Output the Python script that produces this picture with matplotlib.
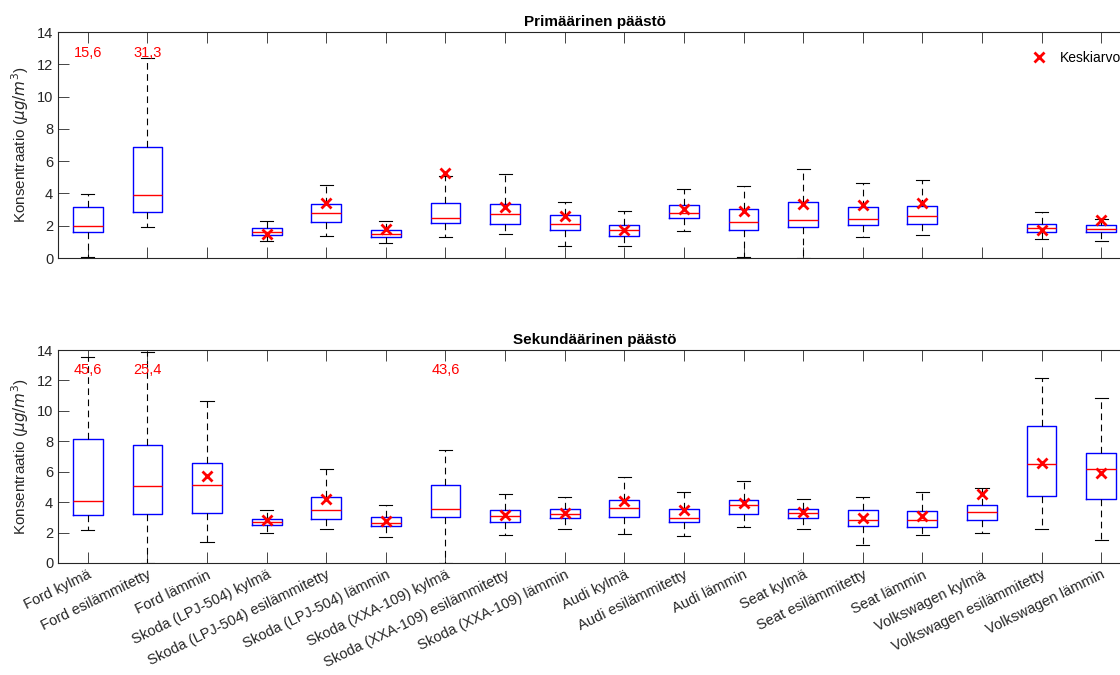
import numpy as np
import matplotlib.pyplot as plt

plt.rcParams['font.family'] = ['Liberation Sans', 'DejaVu Sans']

categories = [
    'Ford kylmä', 'Ford esilämmitetty', 'Ford lämmin',
    'Skoda (LPJ-504) kylmä', 'Skoda (LPJ-504) esilämmitetty', 'Skoda (LPJ-504) lämmin',
    'Skoda (XXA-109) kylmä', 'Skoda (XXA-109) esilämmitetty', 'Skoda (XXA-109) lämmin',
    'Audi kylmä', 'Audi esilämmitetty', 'Audi lämmin',
    'Seat kylmä', 'Seat esilämmitetty', 'Seat lämmin',
    'Volkswagen kylmä', 'Volkswagen esilämmitetty', 'Volkswagen lämmin',
]
nan = np.nan

# Primäärinen päästö
prim_whislo = [0.04, 1.94, nan, 1.07, 1.36, 0.91, 1.30, 1.49, 0.72, 0.72, 1.65, 0.06, 0.02, 1.28, 1.43, nan, 1.20, 1.03]
prim_q1 = [1.63, 2.85, nan, 1.45, 2.23, 1.32, 2.15, 2.09, 1.76, 1.38, 2.46, 1.74, 1.92, 2.07, 2.09, nan, 1.59, 1.59]
prim_med = [1.98, 3.90, nan, 1.63, 2.81, 1.51, 2.50, 2.71, 2.13, 1.76, 2.81, 2.25, 2.38, 2.44, 2.60, nan, 1.86, 1.80]
prim_q3 = [3.14, 6.87, nan, 1.88, 3.37, 1.76, 3.41, 3.37, 2.69, 2.07, 3.31, 3.02, 3.45, 3.16, 3.20, nan, 2.11, 2.05]
prim_whishi = [3.97, 12.40, nan, 2.29, 4.55, 2.27, 5.10, 5.21, 3.47, 2.89, 4.26, 4.46, 5.54, 4.65, 4.86, nan, 2.83, 2.40]
prim_mean = [15.6, 31.3, nan, 1.51, 3.43, 1.78, 5.29, 3.18, 2.60, 1.71, 3.04, 2.93, 3.37, 3.31, 3.43, nan, 1.71, 2.38]

# Sekundäärinen päästö
sek_whislo = [2.17, 0.00, 1.40, 1.97, 2.23, 1.71, 0.00, 1.82, 2.23, 1.90, 1.79, 2.34, 2.23, 1.16, 1.86, 1.97, 2.23, 1.53]
sek_q1 = [3.13, 3.22, 3.28, 2.47, 2.89, 2.43, 3.02, 2.71, 2.93, 3.04, 2.67, 3.22, 2.93, 2.45, 2.36, 2.82, 4.40, 4.20]
sek_med = [4.05, 5.05, 5.14, 2.67, 3.50, 2.63, 3.52, 3.06, 3.24, 3.59, 2.98, 3.81, 3.28, 2.82, 2.84, 3.33, 6.52, 6.15]
sek_q3 = [8.12, 7.77, 6.54, 2.89, 4.33, 3.02, 5.10, 3.48, 3.52, 4.14, 3.54, 4.14, 3.54, 3.50, 3.44, 3.83, 8.99, 7.22]
sek_whishi = [13.57, 13.85, 10.66, 3.46, 6.21, 3.83, 7.44, 4.51, 4.33, 5.62, 4.68, 5.40, 4.20, 4.31, 4.64, 4.92, 12.19, 10.83]
sek_mean = [45.6, 25.4, 5.71, 2.80, 4.20, 2.74, 43.6, 3.15, 3.30, 4.05, 3.46, 3.96, 3.33, 2.95, 3.09, 4.53, 6.59, 5.89]

Y_MAX = 14
TEXT_COLOR = '#262626'


def draw_panel(ax, title, whislo, q1, med, q3, whishi, mean):
    stats = []
    positions = []
    for i in range(len(categories)):
        if np.isnan(med[i]):
            continue
        stats.append(dict(whislo=whislo[i], q1=q1[i], med=med[i], q3=q3[i],
                          whishi=whishi[i], fliers=[]))
        positions.append(i + 1)

    ax.bxp(stats, positions=positions, widths=0.5, showfliers=False,
           boxprops=dict(color='blue', linewidth=1.0),
           medianprops=dict(color='red', linewidth=1.0),
           whiskerprops=dict(color='black', linewidth=0.8, linestyle=(0, (6, 4))),
           capprops=dict(color='black', linewidth=0.8),
           capwidths=0.22)

    mean = np.asarray(mean, dtype=float)
    x = np.arange(1, len(categories) + 1)
    inside = mean <= Y_MAX
    handle, = ax.plot(x[inside], mean[inside], 'x', color='red',
                      markersize=7, markeredgewidth=2, linestyle='none')
    # means above the axis range are written out as numbers
    above = ~inside & ~np.isnan(mean)
    for xi, m in zip(x[above], mean[above]):
        ax.text(xi, 12.7, f'{m:.1f}'.replace('.', ','), color='red',
                ha='center', va='center', fontsize=10.5)

    ax.set_xlim(0.5, len(categories) + 0.5)
    ax.set_ylim(0, Y_MAX)
    ax.set_yticks(range(0, 15, 2))
    ax.set_xticks(x)
    ax.set_title(title, fontsize=11, fontweight='bold', pad=4)
    ax.set_ylabel(r'Konsentraatio ($\mu g/m^3$)', fontsize=11, color=TEXT_COLOR)
    ax.tick_params(axis='both', direction='in', colors=TEXT_COLOR,
                   labelsize=10.5, length=7.7, width=0.6)
    ax.tick_params(axis='x', top=True)
    for side in ('left', 'bottom', 'top'):
        ax.spines[side].set_color(TEXT_COLOR)
        ax.spines[side].set_linewidth(0.8)
    ax.spines['right'].set_visible(False)
    return handle


fig = plt.figure(figsize=(11.2, 6.75), dpi=100)
ax_top = fig.add_axes([58 / 1120, 1 - 258 / 675, 1073 / 1120, 226 / 675])
ax_bot = fig.add_axes([58 / 1120, 1 - 563 / 675, 1073 / 1120, 213 / 675])

mean_handle = draw_panel(ax_top, 'Primäärinen päästö', prim_whislo, prim_q1,
                         prim_med, prim_q3, prim_whishi, prim_mean)
draw_panel(ax_bot, 'Sekundäärinen päästö', sek_whislo, sek_q1,
           sek_med, sek_q3, sek_whishi, sek_mean)

ax_top.set_xticklabels([])
ax_bot.set_xticklabels(categories, rotation=26, ha='right',
                       rotation_mode='anchor', fontsize=10.5)

ax_top.legend([mean_handle], ['Keskiarvo'], loc='upper left',
              bbox_to_anchor=(1020 / 1120, 1 - 38 / 675),
              bbox_transform=fig.transFigure, frameon=False,
              fontsize=10, handlelength=1.0, handletextpad=1.0)

fig.savefig('out.png', dpi=100)
